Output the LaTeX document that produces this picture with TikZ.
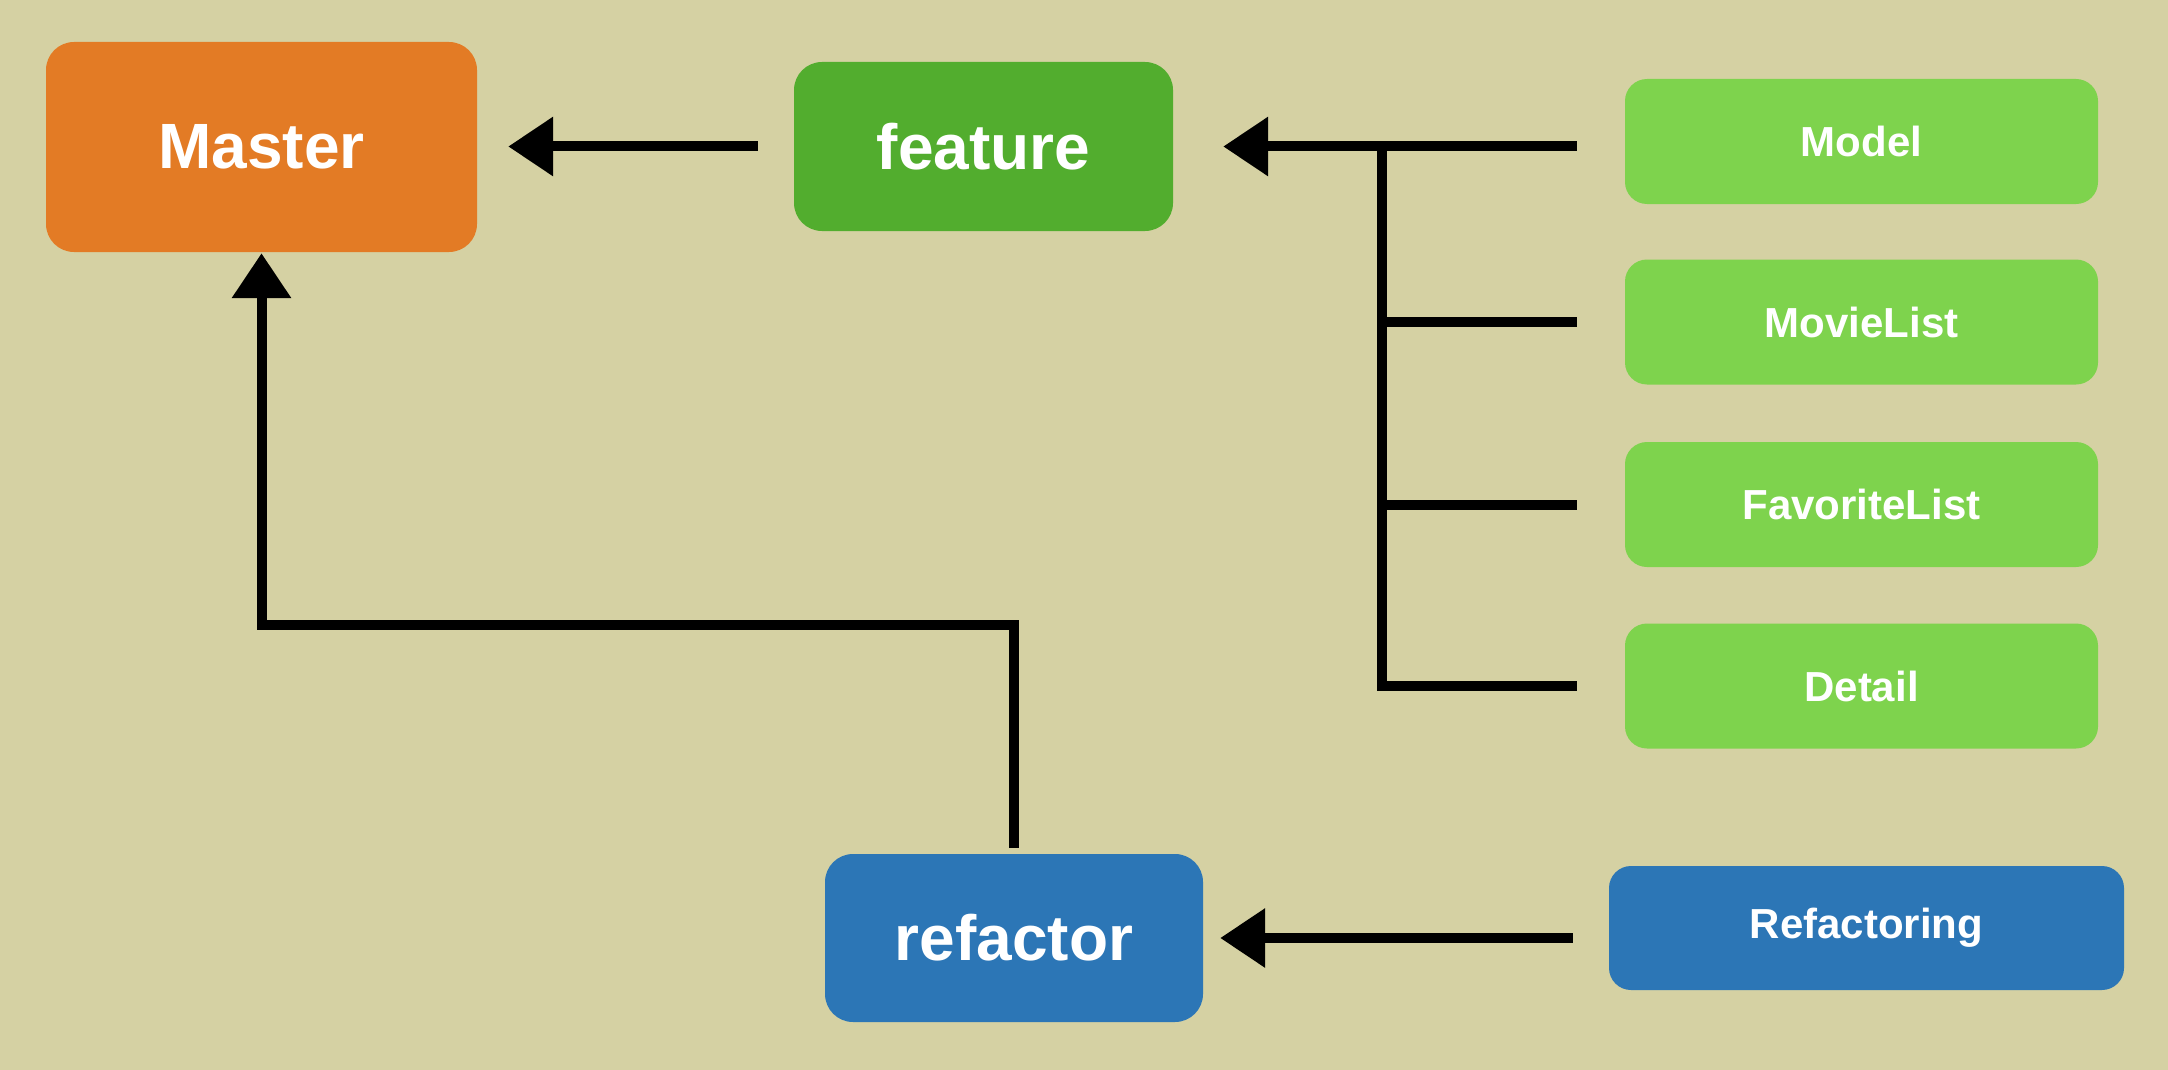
\documentclass[tikz,border=0pt]{standalone}
\usepackage{fontspec}
\setmainfont{Liberation Sans}
\usetikzlibrary{arrows.meta}
\definecolor{bgc}{RGB}{213,209,163}
\definecolor{orangec}{RGB}{227,123,37}
\definecolor{darkgreen}{RGB}{82,173,46}
\definecolor{lightgreen}{RGB}{126,211,77}
\definecolor{bluec}{RGB}{44,118,182}
\tikzset{
  box/.style={rectangle, rounded corners=28pt, text=white, inner sep=0pt, font=\bfseries},
  bigbox/.style={box, font=\fontsize{64}{70}\selectfont\bfseries},
  smallbox/.style={box, rounded corners=22pt, font=\fontsize{42}{48}\selectfont\bfseries},
  conn/.style={draw=black, line width=10pt, -{Triangle[length=45pt,width=57pt]}},
  plain/.style={draw=black, line width=10pt}
}
\begin{document}
\begin{tikzpicture}[x=1pt,y=-1pt]
\fill[bgc] (0,0) rectangle (2168,1070);
\useasboundingbox (0,0) rectangle (2168,1070);
\node[bigbox, fill=orangec, minimum width=431pt, minimum height=210pt] (master) at (261.5,147) {Master};
\node[bigbox, fill=darkgreen, minimum width=379pt, minimum height=169pt] (feature) at (983.5,146.5) {feature};
\node[bigbox, fill=bluec, minimum width=378pt, minimum height=168pt] (refactor) at (1014,938) {refactor};
\node[smallbox, fill=lightgreen, minimum width=473pt, minimum height=125pt] (model) at (1861.5,141.5) {Model};
\node[smallbox, fill=lightgreen, minimum width=473pt, minimum height=125pt] (movielist) at (1861.5,322) {MovieList};
\node[smallbox, fill=lightgreen, minimum width=473pt, minimum height=125pt] (favlist) at (1861.5,504.5) {FavoriteList};
\node[smallbox, fill=lightgreen, minimum width=473pt, minimum height=125pt] (detail) at (1861.5,686) {Detail};
\node[smallbox, fill=bluec, minimum width=515pt, minimum height=124pt] (refactoring) at (1866.5,928) {Refactoring};
\coordinate (j) at (1382,147);
\coordinate (bend) at (1014,625);
% feature -> Master
\draw[conn, shorten <=36pt, shorten >=31pt] (feature.west) -- (master.east |- feature.west);
% branches -> feature
\draw[conn, shorten <=48pt, shorten >=50pt] (model.west |- feature.east) -- (feature.east);
\draw[plain, shorten >=48pt] (j) |- (detail.west);
\draw[plain, shorten <=48pt] (movielist.west) -- (j |- movielist.west);
\draw[plain, shorten <=48pt] (favlist.west) -- (j |- favlist.west);
% refactor -> Master
\draw[conn, shorten <=6pt, shorten >=1pt] (refactor.north) -- (bend) -| (master.south);
% Refactoring -> refactor
\draw[conn, shorten <=36pt, shorten >=17pt] (refactoring.west |- refactor.east) -- (refactor.east);
\end{tikzpicture}
\end{document}
